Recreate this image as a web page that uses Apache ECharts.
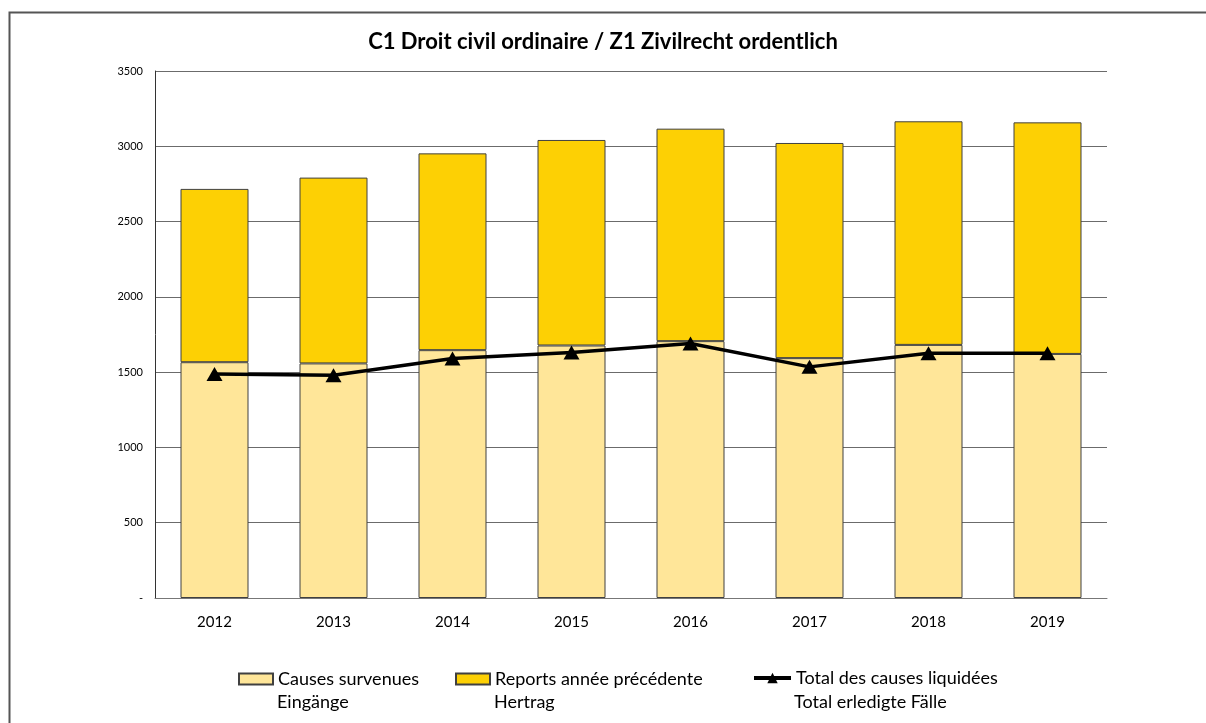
<!DOCTYPE html>
<html>
<head>
<meta charset="utf-8">
<script src="https://cdn.jsdelivr.net/npm/echarts@6/dist/echarts.min.js"></script>
<style>
  html, body { margin: 0; padding: 0; background: #fff; }
  #chart { width: 1206px; height: 723px; }
</style>
</head>
<body>
<div id="chart"></div>
<script>
// Civil cases per year
const years = ['2012', '2013', '2014', '2015', '2016', '2017', '2018', '2019'];
const causesSurvenues = [1566, 1558, 1646, 1677, 1706, 1593, 1681, 1621];
const reportsAnneePrecedente = [1151, 1234, 1307, 1365, 1411, 1429, 1485, 1538];
const totalLiquidees = [1487, 1480, 1590, 1630, 1690, 1535, 1625, 1625];
const yTicks = [0, 500, 1000, 1500, 2000, 2500, 3000, 3500];

const nameIn = 'Causes survenues\nEingänge';
const nameRep = 'Reports année précédente\nHertrag';
const nameTot = 'Total des causes liquidées\nTotal erledigte Fälle';

const FONT = 'Lato, "Open Sans", sans-serif';

// Each legend entry is bilingual: the first line sits beside the icon,
// the second line is a companion legend row without an icon.
function legendRow(name, left, top, line, iconWidth, withIcon) {
  const row = {
    orient: 'horizontal',
    left: left,
    top: top,
    itemWidth: iconWidth,
    itemHeight: 11,
    itemGap: 0,
    padding: 0,
    selectedMode: withIcon,
    icon: withIcon ? undefined : 'none',
    data: [withIcon && name !== nameTot ? { name: name, icon: 'rect' } : name],
    formatter: n => n.split('\n')[line],
    textStyle: { fontFamily: FONT, fontSize: 18, color: '#000' }
  };
  if (withIcon && name === nameTot) {
    row.itemHeight = 13;
    row.lineStyle = { width: 4, color: '#000' };
  }
  return row;
}

const chart = echarts.init(document.getElementById('chart'), null, { renderer: 'canvas' });
chart.setOption({
  backgroundColor: '#fff',
  animation: false,
  title: {
    text: 'C1 Droit civil ordinaire / Z1 Zivilrecht ordentlich',
    left: 'center',
    top: 26,
    textStyle: { fontFamily: FONT, fontSize: 22, fontWeight: 'bold', color: '#000' }
  },
  graphic: [{
    type: 'rect',
    shape: { x: 9.5, y: 12.5, width: 1300, height: 800 },
    style: { fill: 'none', stroke: '#555', lineWidth: 2 },
    silent: true,
    z: -1
  }],
  grid: { left: 155, right: 99, top: 71, bottom: 125 },
  legend: [
    legendRow(nameIn, 238, 670, 0, 34, true),
    legendRow(nameIn, 238, 693, 1, 34, false),
    legendRow(nameRep, 455, 670, 0, 34, true),
    legendRow(nameRep, 455, 693, 1, 34, false),
    legendRow(nameTot, 752, 669, 0, 37, true),
    legendRow(nameTot, 752, 693, 1, 37, false)
  ],
  xAxis: {
    type: 'category',
    data: years,
    axisLine: { lineStyle: { color: '#777', width: 1 } },
    axisTick: { show: false },
    axisLabel: { fontFamily: FONT, fontSize: 15, color: '#000', margin: 17 }
  },
  yAxis: {
    type: 'value',
    min: yTicks[0],
    max: yTicks[yTicks.length - 1],
    interval: 500,
    axisLine: { show: true, lineStyle: { color: '#333', width: 1 } },
    axisTick: { show: false },
    splitLine: { lineStyle: { color: '#6b6b6b', width: 1 } },
    axisLabel: {
      fontFamily: FONT, fontSize: 11, color: '#000', margin: 12,
      formatter: v => (v === 0 ? '-' : String(v))
    }
  },
  series: [
    {
      name: nameIn,
      type: 'bar',
      stack: 'total',
      barWidth: 68,
      data: causesSurvenues,
      itemStyle: { color: '#FFE699', borderColor: '#404040', borderWidth: 1 }
    },
    {
      name: nameRep,
      type: 'bar',
      stack: 'total',
      barWidth: 68,
      data: reportsAnneePrecedente,
      itemStyle: { color: '#FDD004', borderColor: '#404040', borderWidth: 1 }
    },
    {
      name: nameTot,
      type: 'line',
      data: totalLiquidees,
      symbol: 'triangle',
      symbolSize: [16, 14],
      lineStyle: { color: '#000', width: 3.5 },
      itemStyle: { color: '#000' },
      z: 5
    }
  ]
});
</script>
</body>
</html>
